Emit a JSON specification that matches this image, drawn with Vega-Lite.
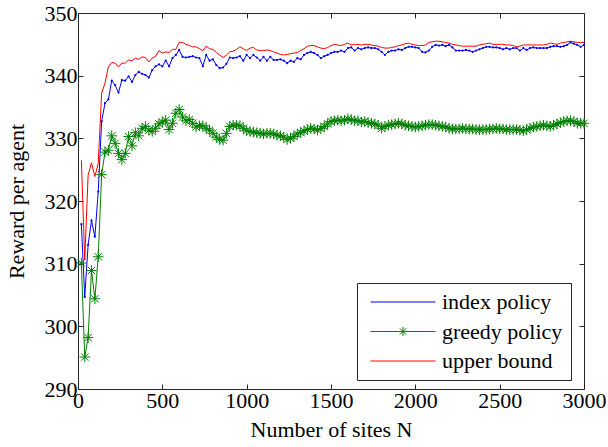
{
  "$schema": "https://vega.github.io/schema/vega-lite/v6.json",
  "width": 506,
  "height": 376,
  "autosize": {"type": "none"},
  "padding": {"left": 78, "top": 13, "right": 24, "bottom": 58},
  "background": "white",
  "config": {
    "view": {"stroke": "#262626", "strokeWidth": 1},
    "font": "Liberation Serif",
    "axis": {
      "grid": false,
      "domain": false,
      "tickColor": "#262626",
      "tickSize": -5,
      "labelFont": "Liberation Serif",
      "labelFontSize": 22,
      "labelColor": "black",
      "labelFlush": false,
      "labelOverlap": false,
      "titleFont": "Liberation Serif",
      "titleFontSize": 22,
      "titleFontWeight": "normal",
      "titleColor": "black"
    }
  },
  "data": {"values": [
    {"N":20,"index":316.3,"greedy":310.1,"upper":326.5},
    {"N":40,"index":304.7,"greedy":295.1,"upper":310.6},
    {"N":60,"index":313.0,"greedy":298.2,"upper":324.1},
    {"N":80,"index":316.9,"greedy":308.9,"upper":326.1},
    {"N":100,"index":314.3,"greedy":304.4,"upper":323.9},
    {"N":120,"index":321.5,"greedy":311.1,"upper":326.0},
    {"N":140,"index":332.7,"greedy":324.2,"upper":337.2},
    {"N":160,"index":335.6,"greedy":327.8,"upper":338.8},
    {"N":180,"index":336.2,"greedy":328.1,"upper":341.4},
    {"N":200,"index":339.2,"greedy":330.4,"upper":342.1},
    {"N":220,"index":338.5,"greedy":329.2,"upper":342.0},
    {"N":240,"index":337.3,"greedy":327.6,"upper":341.4},
    {"N":260,"index":339.3,"greedy":326.6,"upper":342.0},
    {"N":280,"index":339.2,"greedy":327.6,"upper":342.0},
    {"N":300,"index":339.9,"greedy":330.3,"upper":342.5},
    {"N":320,"index":339.0,"greedy":328.8,"upper":342.4},
    {"N":340,"index":340.1,"greedy":330.9,"upper":342.8},
    {"N":360,"index":340.6,"greedy":330.4,"upper":342.6},
    {"N":380,"index":340.3,"greedy":331.6,"upper":343.0},
    {"N":400,"index":340.1,"greedy":331.9,"upper":342.9},
    {"N":420,"index":339.7,"greedy":331.3,"upper":342.2},
    {"N":440,"index":340.9,"greedy":331.1,"upper":342.8},
    {"N":460,"index":341.5,"greedy":331.6,"upper":343.1},
    {"N":480,"index":341.8,"greedy":332.3,"upper":344.0},
    {"N":500,"index":341.5,"greedy":332.6,"upper":343.6},
    {"N":520,"index":342.4,"greedy":332.9,"upper":343.8},
    {"N":540,"index":341.5,"greedy":331.4,"upper":343.7},
    {"N":560,"index":342.8,"greedy":332.4,"upper":344.2},
    {"N":580,"index":343.3,"greedy":334.0,"upper":344.2},
    {"N":600,"index":344.1,"greedy":334.6,"upper":345.3},
    {"N":620,"index":343.0,"greedy":333.4,"upper":345.3},
    {"N":640,"index":342.9,"greedy":332.8,"upper":345.0},
    {"N":660,"index":343.0,"greedy":333.0,"upper":344.8},
    {"N":680,"index":343.1,"greedy":332.4,"upper":344.6},
    {"N":700,"index":342.9,"greedy":331.8,"upper":344.6},
    {"N":720,"index":342.8,"greedy":332.0,"upper":344.3},
    {"N":740,"index":341.5,"greedy":332.0,"upper":344.0},
    {"N":760,"index":343.3,"greedy":331.6,"upper":344.7},
    {"N":780,"index":342.4,"greedy":331.3,"upper":344.3},
    {"N":800,"index":342.6,"greedy":330.8,"upper":344.2},
    {"N":820,"index":341.7,"greedy":330.2,"upper":343.7},
    {"N":840,"index":341.2,"greedy":329.8,"upper":343.3},
    {"N":860,"index":341.3,"greedy":329.7,"upper":342.9},
    {"N":880,"index":341.9,"greedy":330.8,"upper":343.3},
    {"N":900,"index":342.9,"greedy":331.9,"upper":343.8},
    {"N":920,"index":342.8,"greedy":332.1,"upper":343.9},
    {"N":940,"index":342.9,"greedy":332.1,"upper":344.2},
    {"N":960,"index":343.1,"greedy":332.0,"upper":344.6},
    {"N":980,"index":342.4,"greedy":331.6,"upper":344.3},
    {"N":1000,"index":343.3,"greedy":331.2,"upper":344.0},
    {"N":1020,"index":342.8,"greedy":331.1,"upper":344.4},
    {"N":1040,"index":343.3,"greedy":331.0,"upper":344.5},
    {"N":1060,"index":342.9,"greedy":330.9,"upper":344.1},
    {"N":1080,"index":342.4,"greedy":330.8,"upper":344.0},
    {"N":1100,"index":343.0,"greedy":330.7,"upper":344.0},
    {"N":1120,"index":342.4,"greedy":330.8,"upper":344.1},
    {"N":1140,"index":343.0,"greedy":330.8,"upper":344.0},
    {"N":1160,"index":342.5,"greedy":330.7,"upper":343.8},
    {"N":1180,"index":342.5,"greedy":330.5,"upper":343.6},
    {"N":1200,"index":342.6,"greedy":330.4,"upper":343.4},
    {"N":1220,"index":342.4,"greedy":330.2,"upper":343.3},
    {"N":1240,"index":342.0,"greedy":329.8,"upper":343.4},
    {"N":1260,"index":342.4,"greedy":330.0,"upper":343.5},
    {"N":1280,"index":342.2,"greedy":330.3,"upper":343.6},
    {"N":1300,"index":342.8,"greedy":330.7,"upper":343.7},
    {"N":1320,"index":342.6,"greedy":330.9,"upper":344.0},
    {"N":1340,"index":343.3,"greedy":331.2,"upper":344.3},
    {"N":1360,"index":343.6,"greedy":331.4,"upper":344.7},
    {"N":1380,"index":343.8,"greedy":331.6,"upper":344.8},
    {"N":1400,"index":343.6,"greedy":331.5,"upper":344.8},
    {"N":1420,"index":343.3,"greedy":331.3,"upper":344.6},
    {"N":1440,"index":342.8,"greedy":331.6,"upper":344.4},
    {"N":1460,"index":343.1,"greedy":331.9,"upper":344.3},
    {"N":1480,"index":343.3,"greedy":332.3,"upper":344.5},
    {"N":1500,"index":343.6,"greedy":332.7,"upper":344.8},
    {"N":1520,"index":343.8,"greedy":332.8,"upper":345.0},
    {"N":1540,"index":343.8,"greedy":332.9,"upper":344.9},
    {"N":1560,"index":344.0,"greedy":332.8,"upper":344.8},
    {"N":1580,"index":343.8,"greedy":332.9,"upper":345.0},
    {"N":1600,"index":344.4,"greedy":333.1,"upper":345.2},
    {"N":1620,"index":344.5,"greedy":333.0,"upper":344.9},
    {"N":1640,"index":344.0,"greedy":332.8,"upper":345.0},
    {"N":1660,"index":344.4,"greedy":332.8,"upper":345.0},
    {"N":1680,"index":344.2,"greedy":332.6,"upper":344.9},
    {"N":1700,"index":344.4,"greedy":332.7,"upper":345.0},
    {"N":1720,"index":344.5,"greedy":332.5,"upper":345.0},
    {"N":1740,"index":344.4,"greedy":332.4,"upper":344.9},
    {"N":1760,"index":344.4,"greedy":332.3,"upper":344.8},
    {"N":1780,"index":344.2,"greedy":332.1,"upper":344.7},
    {"N":1800,"index":343.8,"greedy":331.6,"upper":344.5},
    {"N":1820,"index":343.3,"greedy":331.9,"upper":344.4},
    {"N":1840,"index":343.8,"greedy":332.1,"upper":344.4},
    {"N":1860,"index":344.0,"greedy":332.2,"upper":344.5},
    {"N":1880,"index":344.0,"greedy":332.3,"upper":344.6},
    {"N":1900,"index":344.2,"greedy":332.4,"upper":344.8},
    {"N":1920,"index":344.1,"greedy":332.3,"upper":344.9},
    {"N":1940,"index":344.4,"greedy":332.1,"upper":345.1},
    {"N":1960,"index":344.6,"greedy":332.0,"upper":345.2},
    {"N":1980,"index":344.6,"greedy":331.9,"upper":345.0},
    {"N":2000,"index":344.5,"greedy":331.8,"upper":344.9},
    {"N":2020,"index":344.4,"greedy":331.9,"upper":344.8},
    {"N":2040,"index":343.8,"greedy":332.0,"upper":344.8},
    {"N":2060,"index":343.7,"greedy":332.1,"upper":344.9},
    {"N":2080,"index":344.0,"greedy":332.2,"upper":345.3},
    {"N":2100,"index":344.6,"greedy":332.2,"upper":345.4},
    {"N":2120,"index":344.9,"greedy":332.1,"upper":345.5},
    {"N":2140,"index":344.8,"greedy":332.0,"upper":345.5},
    {"N":2160,"index":344.9,"greedy":331.9,"upper":345.4},
    {"N":2180,"index":344.7,"greedy":331.8,"upper":345.3},
    {"N":2200,"index":344.9,"greedy":331.6,"upper":345.2},
    {"N":2220,"index":344.5,"greedy":331.5,"upper":345.0},
    {"N":2240,"index":344.0,"greedy":331.5,"upper":344.9},
    {"N":2260,"index":344.0,"greedy":331.5,"upper":344.8},
    {"N":2280,"index":344.0,"greedy":331.6,"upper":344.7},
    {"N":2300,"index":344.1,"greedy":331.5,"upper":344.7},
    {"N":2320,"index":344.0,"greedy":331.5,"upper":344.7},
    {"N":2340,"index":343.8,"greedy":331.5,"upper":344.7},
    {"N":2360,"index":344.0,"greedy":331.4,"upper":344.7},
    {"N":2380,"index":344.2,"greedy":331.4,"upper":344.9},
    {"N":2400,"index":344.4,"greedy":331.4,"upper":345.0},
    {"N":2420,"index":344.6,"greedy":331.4,"upper":345.1},
    {"N":2440,"index":344.6,"greedy":331.5,"upper":345.2},
    {"N":2460,"index":344.5,"greedy":331.5,"upper":345.0},
    {"N":2480,"index":344.5,"greedy":331.6,"upper":345.0},
    {"N":2500,"index":344.4,"greedy":331.5,"upper":345.0},
    {"N":2520,"index":344.2,"greedy":331.5,"upper":345.0},
    {"N":2540,"index":344.4,"greedy":331.4,"upper":344.9},
    {"N":2560,"index":344.2,"greedy":331.4,"upper":344.9},
    {"N":2580,"index":344.4,"greedy":331.4,"upper":344.8},
    {"N":2600,"index":344.4,"greedy":331.4,"upper":344.6},
    {"N":2620,"index":344.0,"greedy":331.3,"upper":344.7},
    {"N":2640,"index":344.4,"greedy":331.2,"upper":344.9},
    {"N":2660,"index":344.1,"greedy":331.4,"upper":344.9},
    {"N":2680,"index":344.4,"greedy":331.6,"upper":344.9},
    {"N":2700,"index":344.5,"greedy":331.8,"upper":344.9},
    {"N":2720,"index":344.4,"greedy":331.9,"upper":344.9},
    {"N":2740,"index":344.4,"greedy":332.0,"upper":344.9},
    {"N":2760,"index":344.4,"greedy":332.1,"upper":344.9},
    {"N":2780,"index":344.4,"greedy":332.0,"upper":345.0},
    {"N":2800,"index":344.6,"greedy":331.9,"upper":345.2},
    {"N":2820,"index":344.7,"greedy":332.1,"upper":345.1},
    {"N":2840,"index":344.7,"greedy":332.3,"upper":345.0},
    {"N":2860,"index":344.6,"greedy":332.5,"upper":345.2},
    {"N":2880,"index":344.7,"greedy":332.7,"upper":345.3},
    {"N":2900,"index":344.9,"greedy":332.8,"upper":345.4},
    {"N":2920,"index":345.3,"greedy":332.8,"upper":345.5},
    {"N":2940,"index":345.1,"greedy":332.7,"upper":345.4},
    {"N":2960,"index":344.9,"greedy":332.4,"upper":345.3},
    {"N":2980,"index":344.6,"greedy":332.4,"upper":345.3},
    {"N":3000,"index":344.9,"greedy":332.4,"upper":345.3}
  ]},
  "transform": [{"fold": ["index", "greedy", "upper"], "as": ["series", "reward"]}],
  "layer": [
    {
      "mark": {"type": "line", "strokeWidth": 1},
      "encoding": {
        "x": {"field": "N", "type": "quantitative", "scale": {"domain": [0, 3000], "nice": false},
              "axis": {"orient": "bottom", "values": [0, 500, 1000, 1500, 2000, 2500, 3000], "format": "d", "title": "Number of sites N", "labelPadding": 6, "titlePadding": 8}},
        "y": {"field": "reward", "type": "quantitative", "scale": {"domain": [290, 350], "nice": false, "zero": false},
              "axis": {"orient": "left", "values": [290, 300, 310, 320, 330, 340, 350], "title": "Reward per agent", "labelPadding": 6, "titlePadding": 16}},
        "color": {"field": "series", "type": "nominal",
                  "scale": {"domain": ["index", "greedy", "upper"], "range": ["#0000ff", "#008000", "#ff0000"]},
                  "legend": {
                    "title": null, "orient": "none", "legendX": 279, "legendY": 270,
                    "direction": "vertical",
                    "strokeColor": "#262626", "fillColor": "white", "padding": 8,
                    "labelFont": "Liberation Serif", "labelFontSize": 22, "labelColor": "black",
                    "labelOffset": 28, "rowPadding": 7.5, "labelLimit": 300,
                    "symbolType": "stroke", "symbolSize": 100, "symbolStrokeWidth": 1, "symbolOffset": 27,
                    "labelExpr": "datum.label == 'index' ? 'index policy' : datum.label == 'greedy' ? 'greedy policy\u00a0\u00a0\u00a0' : 'upper bound'",
                    "encode": {"symbols": {"update": {"shape": {"signal": "datum.value == 'greedy' ? 'M-6.5,0H6.5M0,-0.9V0.9M-0.64,-0.64L0.64,0.64M-0.64,0.64L0.64,-0.64' : 'M-6.5,0H6.5'"}}}}
                  }}
      }
    },
    {
      "transform": [{"filter": "datum.series == 'index'"}],
      "mark": {"type": "point", "filled": true, "size": 5, "color": "#0000ff", "opacity": 1},
      "encoding": {
        "x": {"field": "N", "type": "quantitative", "axis": null},
        "y": {"field": "reward", "type": "quantitative", "axis": null}
      }
    },
    {
      "transform": [{"filter": "datum.series == 'greedy'"}],
      "mark": {"type": "point", "shape": "M-1,0H1M0,-1V1M-0.7,-0.7L0.7,0.7M-0.7,0.7L0.7,-0.7", "filled": false, "size": 110, "strokeWidth": 1, "color": "#008000", "opacity": 1},
      "encoding": {
        "x": {"field": "N", "type": "quantitative",
              "axis": {"orient": "top", "values": [0, 500, 1000, 1500, 2000, 2500, 3000], "labels": false, "title": null}},
        "y": {"field": "reward", "type": "quantitative",
              "axis": {"orient": "right", "values": [290, 300, 310, 320, 330, 340, 350], "labels": false, "title": null}}
      }
    }
  ],
  "resolve": {"axis": {"x": "independent", "y": "independent"}}
}
